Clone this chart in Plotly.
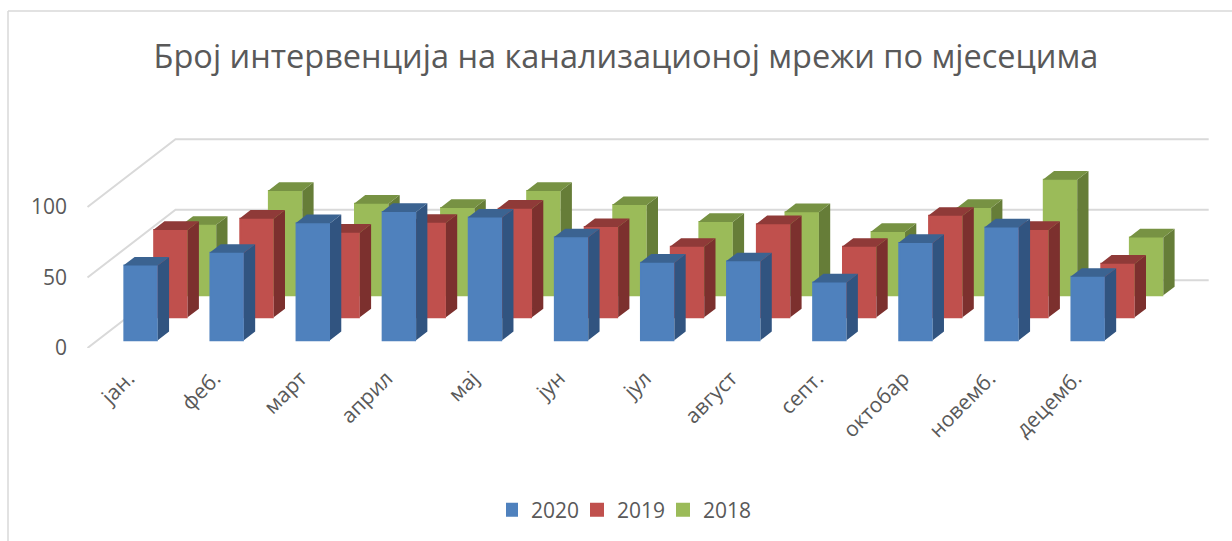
import plotly.graph_objects as go

months = ["јан.", "феб.", "март", "април", "мај", "јун", "јул", "август", "септ.", "октобар", "новемб.", "децемб."]
v2020 = [53, 62, 83, 91, 87, 73, 55, 56, 41, 69, 80, 45]
v2019 = [62, 70, 60, 67, 77, 64, 50, 66, 50, 72, 62, 38]
v2018 = [50, 74, 65, 62, 74, 64, 52, 59, 45, 62, 82, 41]
y_ticks = [0, 50, 100]
wall_levels = [0, 50, 100]

W, H = 1232, 541
ML, MR, MT, MB = 68, 20, 120, 193   # plot box in pixels
PX_PER_CAT = 86.1
PX_PER_VAL = 1.41
FLOOR_X0_PX = 87.5
DEPTH_DX = 88 / PX_PER_CAT        # category units across full depth
DEPTH_DY = 67.7 / PX_PER_VAL      # value units across full depth
BAR_W = 0.40 - 2 / PX_PER_CAT     # front width, less the 2px outline that sizes the legend swatch
BAR_D = 0.128
N = len(months)

x_range = [(ML - FLOOR_X0_PX) / PX_PER_CAT, (W - MR - FLOOR_X0_PX) / PX_PER_CAT]
y_range = [0, (H - MB - MT) / PX_PER_VAL]

series = [
    ("2018", v2018, 0.778, "#9BBB59", "#779243", "#667D38", 3, "2"),
    ("2019", v2019, 0.453, "#C0504D", "#8F3A38", "#7C302E", 2, "3"),
    ("2020", v2020, 0.114, "#4F81BD", "#3B6391", "#315480", 1, "4"),
]

fig = go.Figure()

# walls: back wall and left wall lines, on the base axes underneath every bar
for lv in wall_levels:
    fig.add_trace(go.Scatter(
        x=[0, DEPTH_DX, DEPTH_DX + N],
        y=[lv, lv + DEPTH_DY, lv + DEPTH_DY],
        mode="lines", line=dict(color="#D9D9D9", width=2),
        hoverinfo="skip", showlegend=False))


def polys(quads):
    xs, ys = [], []
    for q in quads:
        xs += [p[0] for p in q] + [q[0][0], None]
        ys += [p[1] for p in q] + [q[0][1], None]
    return xs, ys


for name, vals, depth, front, top, side, rank, ax in series:
    xa, ya = "x" + ax, "y" + ax
    cx = [i + 0.5 + depth * DEPTH_DX for i in range(N)]
    base = depth * DEPTH_DY
    ddx, ddy = BAR_D * DEPTH_DX, BAR_D * DEPTH_DY
    half = 0.20
    fig.add_trace(go.Bar(
        x=cx, y=vals, base=[base] * N, width=BAR_W, name=name,
        marker=dict(color=front, line=dict(width=2, color=front)),
        xaxis=xa, yaxis=ya, legendrank=rank,
        customdata=months, hovertemplate="%{customdata}: %{y}<extra>" + name + "</extra>"))
    side_q, top_q = [], []
    for c, v in zip(cx, vals):
        l, r, b, t = c - half, c + half, base, base + v
        side_q.append([(r, b), (r + ddx, b + ddy), (r + ddx, t + ddy), (r, t)])
        top_q.append([(l, t), (r, t), (r + ddx, t + ddy), (l + ddx, t + ddy)])
    for q, col in ((side_q, side), (top_q, top)):
        xs, ys = polys(q)
        fig.add_trace(go.Scatter(
            x=xs, y=ys, mode="lines", fill="toself", fillcolor=col,
            line=dict(width=0, color=col), hoverinfo="skip", showlegend=False,
            xaxis=xa, yaxis=ya))

tick_font = dict(family="Open Sans", size=21, color="#595959")
hidden = dict(range=x_range, visible=False, fixedrange=True)
hiddeny = dict(range=y_range, visible=False, fixedrange=True)

fig.update_layout(
    width=W, height=H,
    margin=dict(l=ML, r=MR, t=MT, b=MB),
    paper_bgcolor="white", plot_bgcolor="white",
    barmode="overlay",
    title=dict(text="Број интервенција на канализационој мрежи по мјесецима",
               x=626 / W, xanchor="center", y=1 - 57 / H, yanchor="middle",
               font=dict(family="Open Sans", size=32.5, color="#595959")),
    xaxis=dict(range=x_range, tickmode="array", tickvals=[i + 0.475 for i in range(N)], ticktext=months,
               tickangle=-45, showgrid=False, zeroline=False, showline=False, ticks="",
               ticklabelstandoff=13, tickfont=tick_font, fixedrange=True),
    yaxis=dict(range=y_range, tickmode="array", tickvals=y_ticks, showgrid=False, zeroline=False,
               showline=False, ticks="", tickfont=tick_font, fixedrange=True),
    xaxis2=dict(overlaying="x", anchor="y2", **hidden),
    yaxis2=dict(overlaying="y", anchor="x2", **hiddeny),
    xaxis3=dict(overlaying="x", anchor="y3", **hidden),
    yaxis3=dict(overlaying="y", anchor="x3", **hiddeny),
    xaxis4=dict(overlaying="x", anchor="y4", **hidden),
    yaxis4=dict(overlaying="y", anchor="x4", **hiddeny),
    legend=dict(orientation="h", x=506 / W, xanchor="left", y=1 - 510 / H, yanchor="middle",
                xref="container", yref="container",
                font=tick_font, itemwidth=30, indentation=-15, entrywidth=56, entrywidthmode="pixels",
                bgcolor="rgba(0,0,0,0)"),
    showlegend=True,
    shapes=[
        dict(type="line", xref="paper", yref="paper",
             x0=(8 - ML) / (W - ML - MR), x1=(W - ML) / (W - ML - MR),
             y0=(H - MB - 11) / (H - MB - MT), y1=(H - MB - 11) / (H - MB - MT),
             line=dict(color="#D9D9D9", width=1.5)),
        dict(type="line", xref="paper", yref="paper",
             x0=(8 - ML) / (W - ML - MR), x1=(8 - ML) / (W - ML - MR),
             y0=(H - MB - 11) / (H - MB - MT), y1=(H - MB - H) / (H - MB - MT),
             line=dict(color="#D9D9D9", width=1.5)),
    ],
)

fig.write_html("out.html", config={"displayModeBar": False},
               post_script="document.body.style.margin='0';document.documentElement.style.overflow='hidden';")
